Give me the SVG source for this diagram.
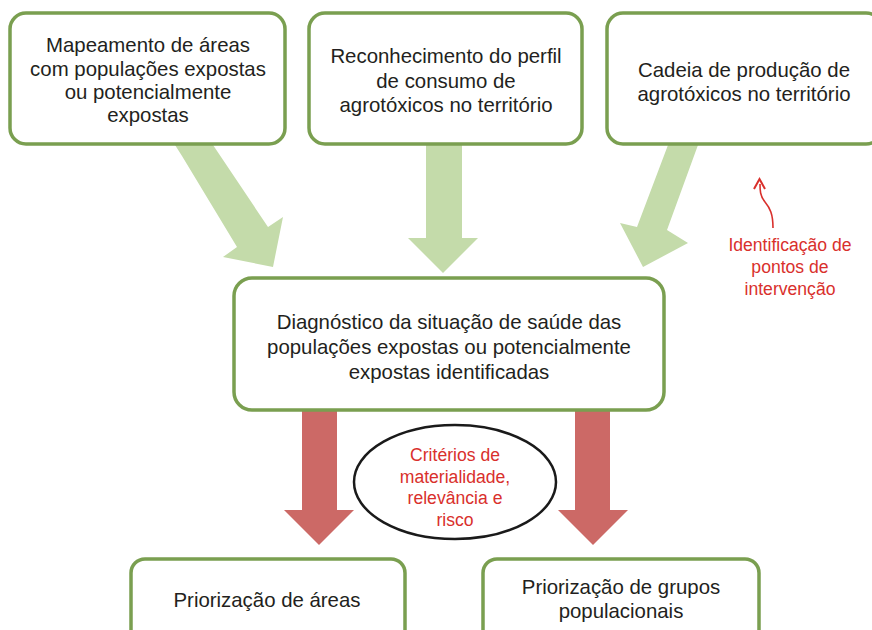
<svg xmlns="http://www.w3.org/2000/svg" width="872" height="630" viewBox="0 0 872 630">
<style>
.box{fill:#fff;stroke:#7a9f50;stroke-width:3.5}
.t{font-family:"Liberation Sans",Arial,sans-serif;font-size:20.4px;fill:#231f20;text-anchor:middle}
.r{font-family:"Liberation Sans",Arial,sans-serif;font-size:17.6px;fill:#d9302c;text-anchor:middle}
.ga{fill:#c4dbaa}
.ra{fill:#cc6966}
</style>
<rect width="872" height="630" fill="#fff"/>
<g id="connectors">
<polygon class="ga" points="175,145 213,145 268,227 283,217 273,267 223,257 237,247 182,156"/>
<polygon class="ga" points="426,145 462,145 462,238 478,238 443,273 408,238 426,238"/>
<polygon class="ga" points="668,145 698,145 667,230 688,243 643,267 620,223 637,227"/>
<polygon class="ra" points="302,410 337,410 337,510 354,510 319,545 284,510 302,510"/>
<polygon class="ra" points="575,410 610,410 610,510 628,510 593,545 558,510 575,510"/>
<path d="M773,228 C773,214 770,208 765,202 C760,196 760,190 760,184" fill="none" stroke="#d9302c" stroke-width="1.6"/>
<path d="M754,189 L759.5,179 L765,189" fill="none" stroke="#d9302c" stroke-width="2"/>
</g>
<g id="n1">
<rect class="box" x="10" y="13" width="275" height="131" rx="16"/>
<text class="t" x="148" y="52">Mapeamento de áreas</text>
<text class="t" x="148" y="76">com populações expostas</text>
<text class="t" x="148" y="99">ou potencialmente</text>
<text class="t" x="148" y="122">expostas</text>
</g>
<g id="n2">
<rect class="box" x="309" y="13" width="273" height="131" rx="16"/>
<text class="t" x="446" y="63">Reconhecimento do perfil</text>
<text class="t" x="446" y="88">de consumo de</text>
<text class="t" x="446" y="112">agrotóxicos no território</text>
</g>
<g id="n3">
<rect class="box" x="607" y="13" width="275" height="131" rx="16"/>
<text class="t" x="744" y="77">Cadeia de produção de</text>
<text class="t" x="744" y="101">agrotóxicos no território</text>
</g>
<g id="n4">
<text class="r" x="790" y="251">Identificação de</text>
<text class="r" x="790" y="273">pontos de</text>
<text class="r" x="790" y="295">intervenção</text>
</g>
<g id="n5">
<rect class="box" x="234" y="278" width="430" height="132" rx="18"/>
<text class="t" x="449" y="329">Diagnóstico da situação de saúde das</text>
<text class="t" x="449" y="354">populações expostas ou potencialmente</text>
<text class="t" x="449" y="379">expostas identificadas</text>
</g>
<g id="n6">
<ellipse cx="455" cy="482" rx="101" ry="57" fill="#fff" stroke="#1a1a1a" stroke-width="2.5"/>
<text class="r" x="455" y="461">Critérios de</text>
<text class="r" x="455" y="483">materialidade,</text>
<text class="r" x="455" y="504">relevância e</text>
<text class="r" x="455" y="526">risco</text>
</g>
<g id="n7">
<rect class="box" x="131" y="559" width="274" height="100" rx="14"/>
<text class="t" x="267" y="607">Priorização de áreas</text>
</g>
<g id="n8">
<rect class="box" x="483" y="559" width="276" height="100" rx="14"/>
<text class="t" x="621" y="594">Priorização de grupos</text>
<text class="t" x="621" y="618">populacionais</text>
</g>
</svg>
